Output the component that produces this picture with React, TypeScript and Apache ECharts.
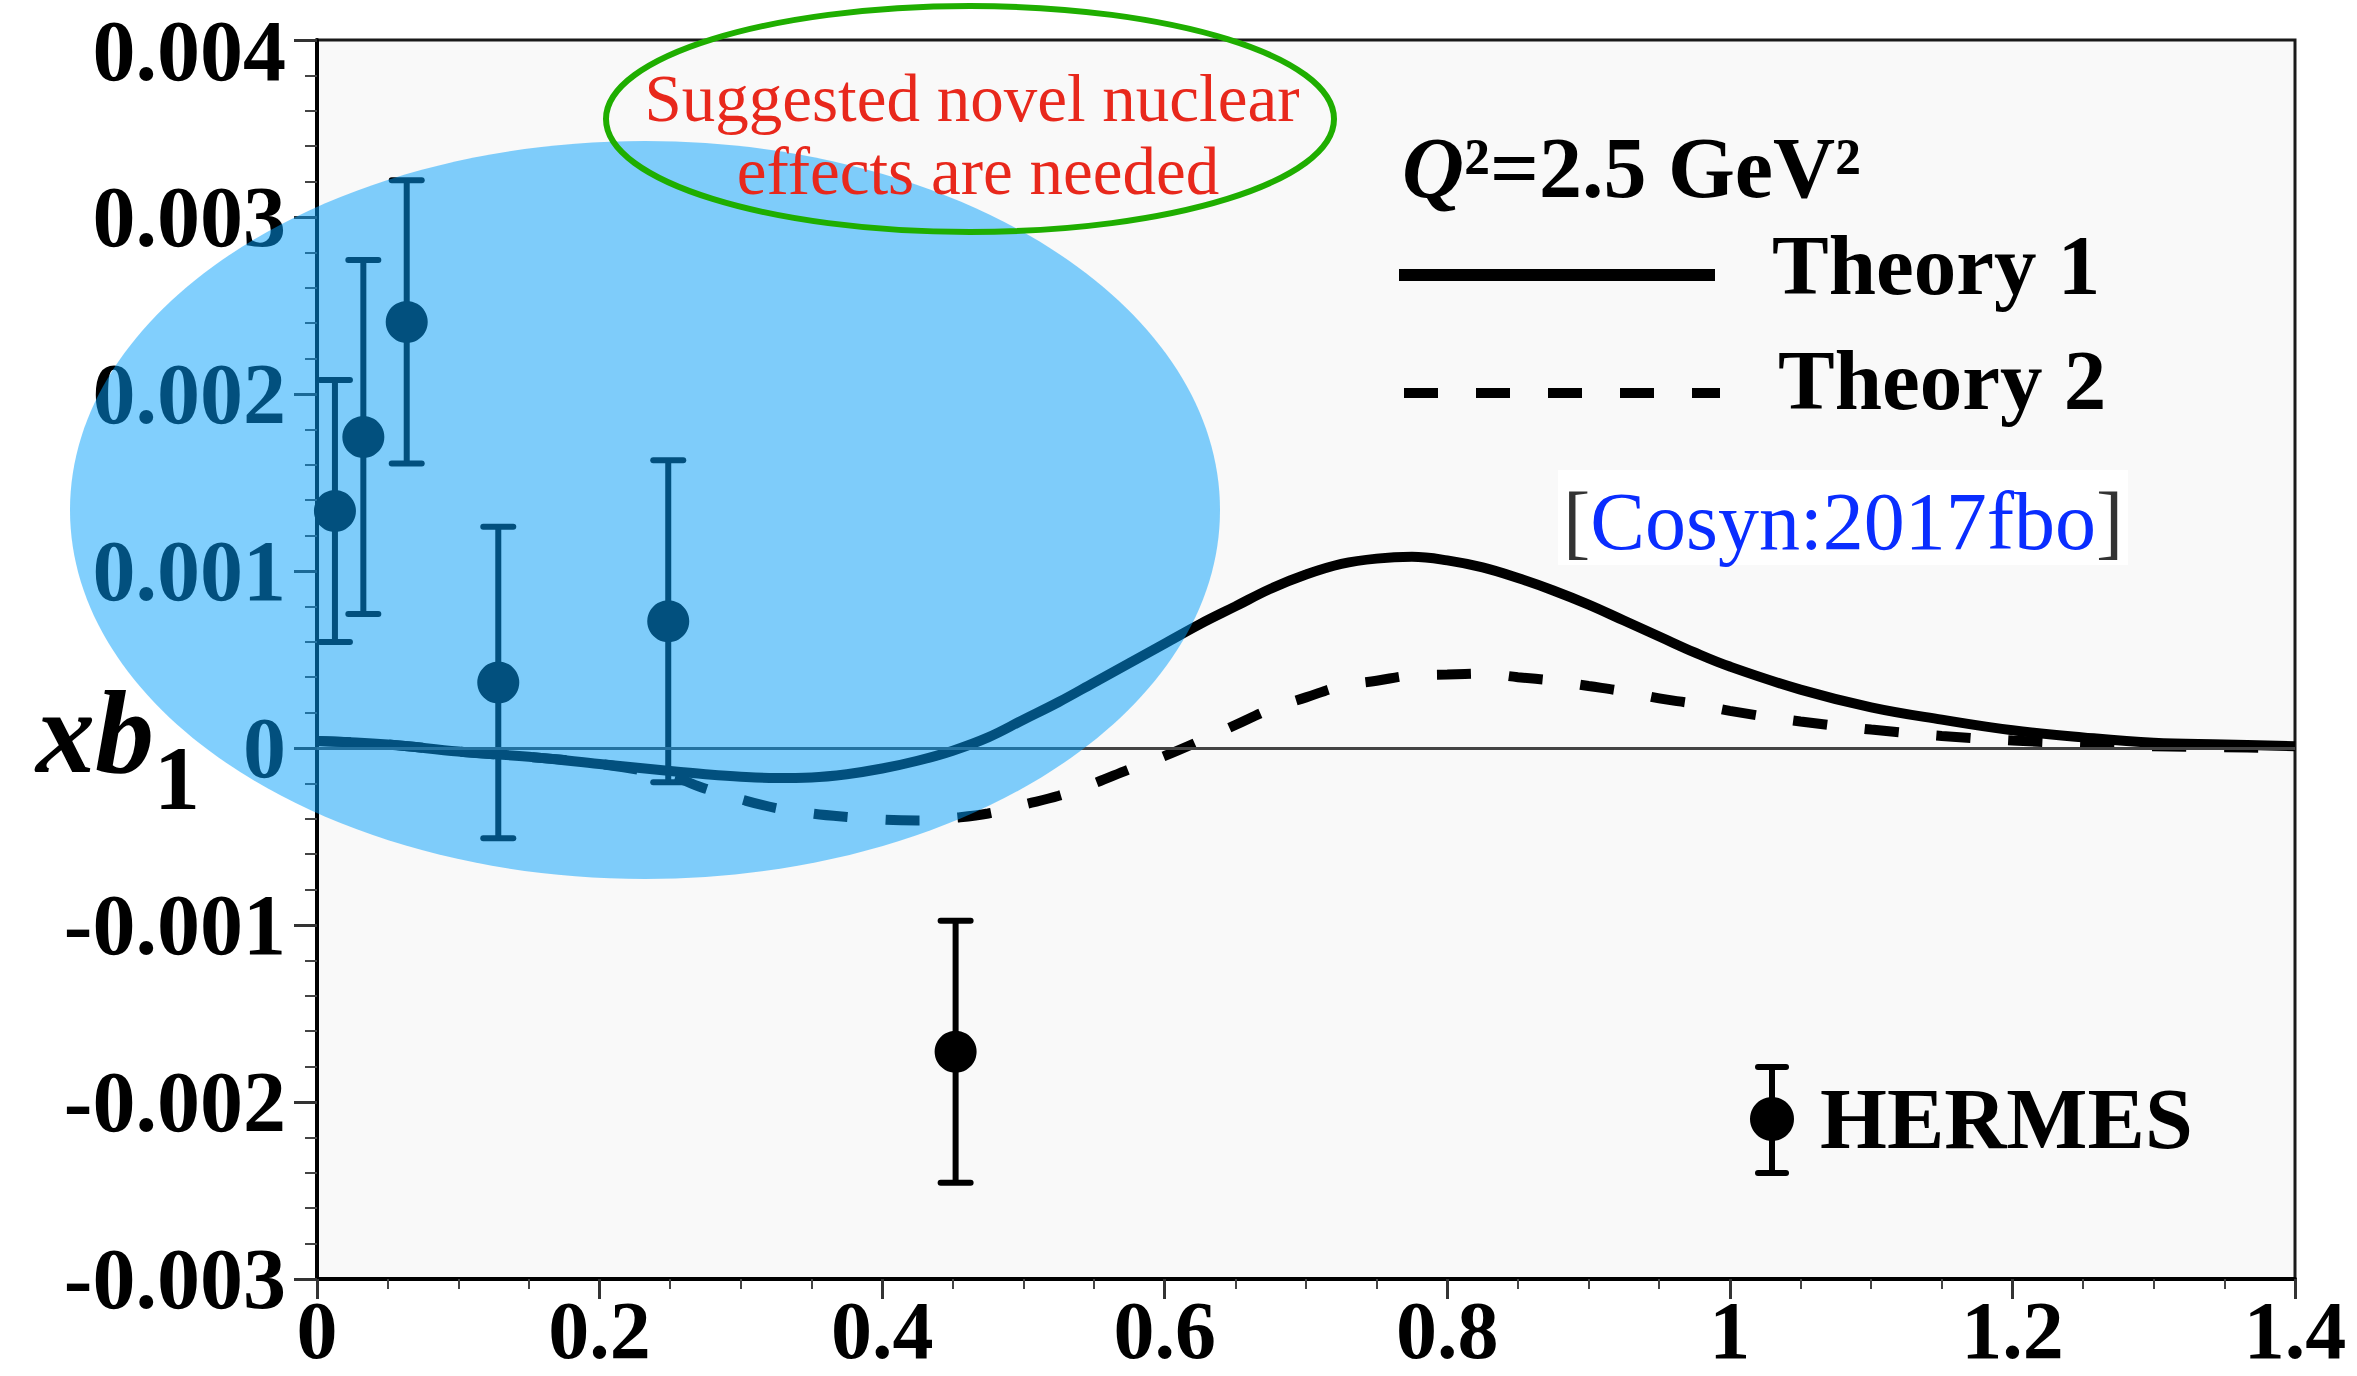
import React, { useEffect, useRef } from 'react';
import * as echarts from 'echarts';

// Theory 1 (solid)
const theory1X = [0.0, 0.05, 0.1, 0.15, 0.2, 0.25, 0.275, 0.3, 0.325, 0.35, 0.375, 0.4, 0.425, 0.45, 0.475, 0.5, 0.525, 0.55, 0.575, 0.6, 0.625, 0.65, 0.675, 0.7, 0.725, 0.75, 0.775, 0.8, 0.825, 0.85, 0.875, 0.9, 0.925, 0.95, 0.975, 1.0, 1.05, 1.1, 1.15, 1.2, 1.25, 1.3, 1.35, 1.4];
const theory1Y = [0.00004, 0.00002, -0.00002, -0.00005, -0.00009, -0.00013, -0.000148, -0.000162, -0.000169, -0.000166, -0.000148, -0.000116, -0.000072, -0.000015, 0.00006, 0.00016, 0.00026, 0.00037, 0.00048, 0.00059, 0.0007, 0.0008, 0.0009, 0.00098, 0.00104, 0.00107, 0.00108, 0.00106, 0.00102, 0.00096, 0.00089, 0.00081, 0.00072, 0.00063, 0.00054, 0.00046, 0.00033, 0.00023, 0.00016, 0.0001, 0.00006, 0.00003, 0.00002, 0.00001];
// Theory 2 (dashed)
const theory2X = [0.0, 0.05, 0.1, 0.15, 0.2, 0.25, 0.275, 0.3, 0.325, 0.35, 0.375, 0.4, 0.425, 0.45, 0.475, 0.5, 0.525, 0.55, 0.575, 0.6, 0.625, 0.65, 0.675, 0.7, 0.725, 0.75, 0.775, 0.8, 0.825, 0.85, 0.875, 0.9, 0.925, 0.95, 0.975, 1.0, 1.05, 1.1, 1.15, 1.2, 1.25, 1.3, 1.35, 1.4];
const theory2Y = [0.00004, 0.00002, -0.00002, -0.00005, -0.00009, -0.00016, -0.00023, -0.00029, -0.00034, -0.00037, -0.00039, -0.000405, -0.00041, -0.000395, -0.00037, -0.00032, -0.00027, -0.0002, -0.00012, -0.000045, 0.00004, 0.00013, 0.00022, 0.000286, 0.00035, 0.00038, 0.00041, 0.000415, 0.00042, 0.0004, 0.00038, 0.00035, 0.00032, 0.00028, 0.00025, 0.00021, 0.00015, 0.000104, 0.000068, 0.000042, 0.000025, 0.00001, 0.000004, 0.0];
// HERMES data
const hermesX = [0.0127, 0.0328, 0.0635, 0.1283, 0.2486, 0.452];
const hermesY = [0.001339, 0.001757, 0.002407, 0.00037, 0.000716, -0.001716];
const hermesErr = [0.00074, 0.001, 0.0008, 0.00088, 0.00091, 0.00074];

const xMin = 0, xMax = 1.4, xStep = 0.2;
const yMin = -0.003, yMax = 0.004, yStep = 0.001;

const legendLabels = ['Theory 1', 'Theory 2', 'HERMES'];
const noteLines = ['Suggested novel nuclear', 'effects are needed'];
const citeKey = 'Cosyn:2017fbo';

const SERIF = '"Liberation Serif", "Times New Roman", serif';

export default function App() {
  const ref = useRef<HTMLDivElement>(null);
  useEffect(() => {
    if (!ref.current) return;
    const chart = echarts.init(ref.current, undefined, { renderer: 'svg' });
    const errData = hermesX.map((x, i) => [x, hermesY[i], hermesErr[i]]);
    const labelFont = { fontFamily: SERIF, fontWeight: 'bold', fontSize: 86, color: '#000' };
    const option: any = {
      animation: false,
      backgroundColor: '#ffffff',
      grid: {
        left: 317, top: 40, width: 1978, height: 1239,
        show: true, backgroundColor: '#f9f9f9', borderColor: '#1a1a1a', borderWidth: 3,
      },
      xAxis: {
        type: 'value', min: xMin, max: xMax, interval: xStep,
        axisLine: { show: true, onZero: false, lineStyle: { color: '#000', width: 4 } },
        axisTick: { show: true, length: 20, lineStyle: { color: '#333', width: 3 } },
        minorTick: { show: true, splitNumber: 4, length: 10, lineStyle: { color: '#444', width: 2 } },
        splitLine: { show: false },
        axisLabel: {
          show: true, margin: 10, color: '#000', fontFamily: SERIF, fontWeight: 'bold', fontSize: 82,
          showMinLabel: true, showMaxLabel: true,
          formatter: (v: number) => String(Number(v.toFixed(1))),
        },
      },
      yAxis: {
        type: 'value', min: yMin, max: yMax, interval: yStep,
        axisLine: { show: true, onZero: false, lineStyle: { color: '#000', width: 4 } },
        axisTick: { show: true, length: 23, lineStyle: { color: '#333', width: 3 } },
        minorTick: { show: true, splitNumber: 5, length: 12, lineStyle: { color: '#444', width: 2 } },
        splitLine: { show: false },
        axisLabel: {
          show: true, margin: 31, ...labelFont,
          showMinLabel: true, showMaxLabel: true,
          rich: {
            t: { ...labelFont, padding: [22, 0, 0, 0] },
          },
          formatter: (v: number) => {
            const s = Math.abs(v) < 1e-12 ? '0' : String(Number(v.toFixed(3)));
            return Math.abs(v - yMax) < 1e-9 ? '{t|' + s + '}' : s;
          },
        },
      },
      series: [
        {
          name: legendLabels[0], type: 'line', smooth: 0.4, symbol: 'none',
          data: theory1X.map((x, i) => [x, theory1Y[i]]),
          lineStyle: { color: '#000', width: 10 },
          z: 3,
          markLine: {
            silent: true, symbol: ['none', 'none'], label: { show: false },
            lineStyle: { color: '#444', width: 3, type: 'solid' },
            data: [{ yAxis: 0 }],
          },
        },
        {
          name: legendLabels[1], type: 'line', smooth: 0.4, symbol: 'none',
          data: theory2X.map((x, i) => [x, theory2Y[i]]),
          lineStyle: { color: '#000', width: 10, type: [34, 38] },
          z: 3,
        },
        {
          name: legendLabels[2], type: 'custom', data: errData, z: 4, clip: false,
          encode: { x: 0, y: 1 },
          renderItem: (params: any, api: any) => {
            const x = api.value(0), y = api.value(1), e = api.value(2);
            const c = api.coord([x, y]);
            const hi = api.coord([x, y + e]);
            const lo = api.coord([x, y - e]);
            const st = { stroke: '#000', lineWidth: 6, lineCap: 'round' };
            return {
              type: 'group',
              children: [
                { type: 'line', shape: { x1: c[0], y1: hi[1], x2: c[0], y2: lo[1] }, style: { stroke: '#000', lineWidth: 6 } },
                { type: 'line', shape: { x1: c[0] - 15, y1: hi[1], x2: c[0] + 15, y2: hi[1] }, style: st },
                { type: 'line', shape: { x1: c[0] - 15, y1: lo[1], x2: c[0] + 15, y2: lo[1] }, style: st },
                { type: 'circle', shape: { cx: c[0], cy: c[1], r: 21 }, style: { fill: '#000' } },
              ],
            };
          },
        },
      ],
      graphic: [
        // title
        {
          type: 'text', x: 1402, y: 168, z: 50,
          style: {
            text: '{q|Q}{r|²=2.5 GeV²}', verticalAlign: 'middle', align: 'left',
            rich: {
              q: { fontFamily: SERIF, fontSize: 86, fontWeight: 'bold', fontStyle: 'italic', fill: '#000' },
              r: { fontFamily: SERIF, fontSize: 86, fontWeight: 'bold', fill: '#000' },
            },
          },
        },
        // legend Theory 1
        { type: 'line', z: 50, shape: { x1: 1399, y1: 275, x2: 1715, y2: 275 }, style: { stroke: '#000', lineWidth: 12 } },
        { type: 'text', x: 1772, y: 265, z: 50, style: { text: legendLabels[0], fontFamily: SERIF, fontSize: 85, fontWeight: 'bold', fill: '#000', align: 'left', verticalAlign: 'middle' } },
        // legend Theory 2
        { type: 'line', z: 50, shape: { x1: 1404, y1: 393, x2: 1720, y2: 393 }, style: { stroke: '#000', lineWidth: 10, lineDash: [34, 38] } },
        { type: 'text', x: 1778, y: 380, z: 50, style: { text: legendLabels[1], fontFamily: SERIF, fontSize: 85, fontWeight: 'bold', fill: '#000', align: 'left', verticalAlign: 'middle' } },
        // citation box
        { type: 'rect', z: 50, shape: { x: 1558, y: 470, width: 570, height: 95 }, style: { fill: '#ffffff' } },
        {
          type: 'text', x: 1563, y: 521, z: 51,
          style: {
            text: '{b|[}{c|' + citeKey + '}{b|]}', verticalAlign: 'middle', align: 'left',
            rich: {
              b: { fontFamily: SERIF, fontSize: 82, fill: '#333' },
              c: { fontFamily: SERIF, fontSize: 82, fill: '#0a2dff' },
            },
          },
        },
        // HERMES legend
        { type: 'line', z: 50, shape: { x1: 1772, y1: 1067, x2: 1772, y2: 1173 }, style: { stroke: '#000', lineWidth: 6 } },
        { type: 'line', z: 50, shape: { x1: 1758, y1: 1067, x2: 1786, y2: 1067 }, style: { stroke: '#000', lineWidth: 6, lineCap: 'round' } },
        { type: 'line', z: 50, shape: { x1: 1758, y1: 1173, x2: 1786, y2: 1173 }, style: { stroke: '#000', lineWidth: 6, lineCap: 'round' } },
        { type: 'circle', z: 50, shape: { cx: 1772, cy: 1119, r: 22 }, style: { fill: '#000' } },
        { type: 'text', x: 1820, y: 1119, z: 50, style: { text: legendLabels[2], fontFamily: SERIF, fontSize: 86, fontWeight: 'bold', fill: '#000', align: 'left', verticalAlign: 'middle' } },
        // y axis name xb1
        { type: 'text', x: 36, y: 732, z: 50, style: { text: 'xb', fontFamily: SERIF, fontSize: 118, fontWeight: 'bold', fontStyle: 'italic', fill: '#000', align: 'left', verticalAlign: 'middle' } },
        { type: 'text', x: 154, y: 778, z: 50, style: { text: '1', fontFamily: SERIF, fontSize: 92, fontWeight: 'bold', fill: '#000', align: 'left', verticalAlign: 'middle' } },
        // blue overlay ellipse
        { type: 'ellipse', z: 100, shape: { cx: 645, cy: 510, rx: 575, ry: 369 }, style: { fill: 'rgba(4,160,252,0.5)' } },
        // green ellipse + red note
        { type: 'ellipse', z: 110, shape: { cx: 970, cy: 119, rx: 364, ry: 113 }, style: { fill: 'none', stroke: '#1fae00', lineWidth: 6 } },
        { type: 'text', x: 972, y: 98, z: 111, style: { text: noteLines[0], fontFamily: SERIF, fontSize: 67, fill: '#e8281c', align: 'center', verticalAlign: 'middle' } },
        { type: 'text', x: 978, y: 171, z: 111, style: { text: noteLines[1], fontFamily: SERIF, fontSize: 67, fill: '#e8281c', align: 'center', verticalAlign: 'middle' } },
      ],
    };
    chart.setOption(option);
    return () => chart.dispose();
  }, []);
  return <div ref={ref} style={{ position: 'fixed', left: 0, top: 0, width: 2357, height: 1376, background: '#fff' }} />;
}
